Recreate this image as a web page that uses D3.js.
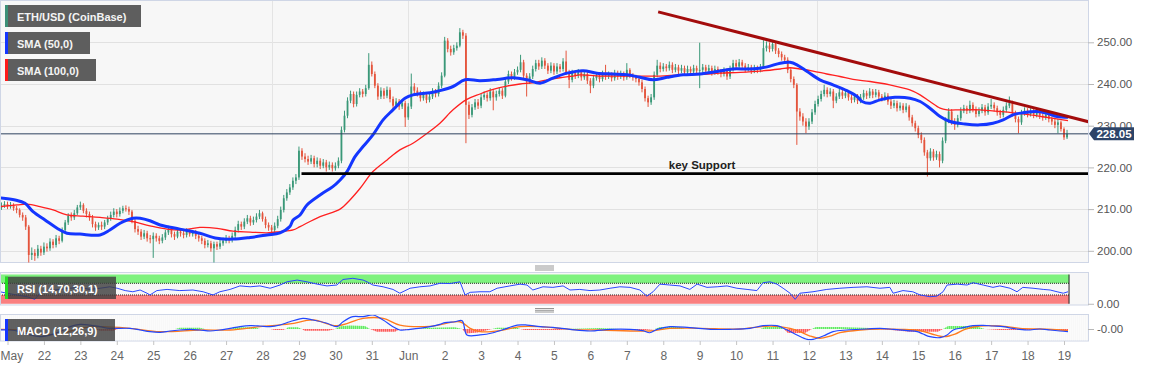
<!DOCTYPE html>
<html><head><meta charset="utf-8">
<script src="https://cdn.jsdelivr.net/npm/d3@7"></script>
<style>
html,body{margin:0;padding:0;background:#fff;}
svg{display:block;font-family:"Liberation Sans",Arial,Helvetica,sans-serif;}
</style></head><body>
<svg id="c" width="1153" height="367"></svg>
<script>
// ---------------- DATA ----------------
const firstCandle = Date.UTC(2020,4,20,20);   // first 2-hour candle
const candleHours = 2;
const firstOpen = 210.4;
const closes = [
210.8,211.2,210.6,211.0,210.2,209.8,208.6,208.0,205.8,199.0,
199.5,198.8,200.5,199.6,201.0,200.6,202.2,201.4,203.0,202.4,
205.0,206.8,208.4,208.0,209.0,210.4,211.0,209.6,208.8,208.0,
206.4,205.6,206.2,205.8,206.8,207.8,208.6,209.4,208.8,209.6,
210.2,210.0,209.4,207.2,205.2,204.6,203.4,204.2,203.0,202.8,
203.6,203.0,202.4,203.2,204.4,205.2,204.0,203.4,204.6,204.2,
203.8,204.6,204.0,204.4,203.6,203.0,202.4,201.4,201.8,200.6,
201.6,201.0,201.8,202.4,203.0,202.6,203.6,205.0,206.4,205.8,
207.0,207.8,206.8,207.4,208.2,209.0,207.6,206.2,205.6,205.0,
206.0,207.6,209.8,212.6,214.0,215.2,216.8,217.6,224.0,222.6,
222.0,221.4,222.2,220.8,221.6,220.4,221.2,220.0,220.6,219.8,
220.4,221.6,229.0,232.4,236.0,237.6,235.2,237.4,238.2,237.6,
239.0,244.6,242.4,239.6,237.0,238.4,237.2,238.6,236.4,234.8,
235.8,234.6,235.4,232.0,234.6,239.4,238.4,237.8,236.6,237.4,
236.2,237.0,238.2,237.6,239.6,242.0,250.4,248.4,247.6,248.6,
249.2,252.4,251.6,235.0,232.6,234.4,235.6,234.8,236.8,237.4,
236.6,238.2,236.8,237.6,238.4,237.2,240.6,242.4,241.6,242.8,
243.4,245.2,242.0,240.6,241.8,243.6,245.0,244.2,245.6,244.4,
243.2,244.4,243.0,244.2,243.6,245.4,242.8,241.0,242.6,242.0,
242.8,241.6,242.4,240.8,239.6,241.4,242.0,241.2,242.4,241.8,
242.2,241.4,242.6,241.8,242.4,241.6,243.4,242.0,241.6,241.2,
240.4,238.8,236.6,235.6,236.8,242.2,244.4,243.6,244.2,243.8,
244.6,243.4,244.0,243.2,243.8,242.8,243.6,243.0,243.8,243.2,
243.4,244.0,243.2,243.8,242.8,243.6,243.0,242.4,243.2,241.8,
243.6,245.0,244.2,245.2,244.4,243.6,244.0,243.2,243.8,243.4,
244.0,248.6,249.2,248.4,249.6,248.0,247.2,246.4,245.8,243.4,
241.2,239.8,233.4,232.2,231.0,229.8,231.0,233.2,235.2,236.4,
237.6,238.6,237.6,238.2,236.0,237.0,238.0,237.2,237.8,236.8,
236.2,237.0,236.0,236.8,237.8,237.2,238.2,237.4,238.0,237.0,
236.6,237.2,235.8,234.8,235.4,234.2,234.8,233.8,234.6,232.0,
230.6,229.4,227.8,226.6,223.6,222.2,223.8,222.4,223.2,221.6,
226.4,231.2,233.4,231.0,230.2,231.8,233.6,234.2,233.6,235.0,
234.0,232.8,233.6,234.4,233.2,234.6,235.0,234.2,233.2,232.6,
233.8,234.8,235.4,233.0,231.6,230.8,233.0,233.6,232.8,233.4,
232.6,233.2,232.4,232.0,232.6,231.6,231.0,230.2,230.8,229.2,
227.2,228.05];
const highs = [
211.6,211.9,211.8,211.7,211.4,210.8,210.2,209.2,208.6,206.2,
200.8,200.4,201.4,201.2,202.0,201.8,203.0,202.8,203.8,203.6,
205.6,207.4,209.0,209.2,209.8,211.0,211.8,211.4,210.2,209.4,
208.6,207.0,206.8,207.0,207.4,208.4,209.4,210.2,210.0,210.4,
210.8,210.9,210.6,209.8,207.6,206.0,205.2,205.0,204.8,203.8,
204.4,204.2,203.6,204.0,205.0,206.0,205.8,204.6,205.4,205.2,
204.8,205.4,205.2,205.0,205.0,204.2,203.6,203.0,202.6,202.4,
202.2,202.2,202.6,203.2,203.8,203.6,204.4,205.8,207.2,207.0,
207.8,208.6,208.4,208.2,209.0,209.8,209.4,208.2,206.8,206.2,
206.8,208.4,210.6,213.4,214.8,216.0,217.6,218.4,225.0,224.6,
223.4,222.8,223.0,222.8,222.4,222.2,222.0,221.8,221.4,221.2,
221.2,222.4,229.8,233.6,236.8,238.4,238.2,238.2,239.0,238.8,
239.8,247.4,245.4,243.0,240.2,239.2,239.0,239.4,239.2,237.0,
236.6,236.4,236.2,236.0,235.4,242.5,240.2,239.2,238.4,238.2,
238.0,237.8,239.0,238.8,240.4,242.8,251.3,251.0,249.2,249.4,
250.0,253.4,253.0,252.2,235.8,235.2,236.4,236.4,237.6,238.2,
238.0,239.0,238.8,238.4,239.2,239.0,241.4,243.2,243.0,243.6,
244.2,247.0,245.8,242.6,242.6,244.4,245.8,245.8,246.4,246.2,
245.0,245.2,245.0,245.0,244.8,246.2,248.0,243.4,243.4,243.2,
243.6,243.4,243.2,243.0,241.4,242.2,242.8,242.6,243.2,244.6,
243.0,242.8,243.4,243.2,243.2,243.0,245.0,243.8,242.6,242.2,
241.8,241.0,239.4,237.2,237.6,243.0,245.8,245.2,245.0,244.8,
245.4,245.2,244.8,244.6,244.6,244.4,244.4,244.2,244.6,244.4,
249.9,244.8,244.6,244.6,244.4,244.4,244.2,243.6,244.0,243.8,
244.4,245.8,245.8,246.0,245.8,245.0,244.8,244.6,244.6,244.4,
244.8,250.5,250.2,250.0,250.4,250.2,248.6,247.8,247.0,246.4,
243.8,241.8,240.2,234.2,233.0,231.8,231.8,234.0,236.0,237.2,
238.4,239.8,239.2,239.0,238.8,237.8,238.8,238.8,238.6,238.4,
237.4,237.8,237.6,237.6,238.6,238.4,239.0,238.8,238.8,238.6,
237.6,238.0,237.8,236.4,236.2,236.0,235.6,235.4,235.4,235.0,
232.6,231.2,230.0,228.4,227.2,224.2,224.6,224.4,224.0,223.8,
227.2,232.0,234.2,234.0,231.8,232.6,234.4,235.0,234.8,236.0,
235.6,234.6,234.4,235.2,235.0,235.4,236.4,235.6,234.8,233.8,
234.6,235.6,237.0,236.0,233.6,232.2,233.8,234.4,234.2,234.2,
234.0,234.0,233.8,233.0,233.4,233.2,232.2,231.6,231.6,231.2,
229.6,229.0];
const lows = [
209.8,210.3,210.0,210.1,209.6,209.0,208.0,207.2,205.0,197.0,
197.8,197.6,198.2,198.8,199.0,199.8,200.0,200.6,200.8,201.6,
202.0,204.4,206.2,207.2,207.4,208.6,209.8,209.0,208.0,207.2,
205.6,204.8,205.0,205.0,205.2,206.2,207.2,208.0,208.0,208.2,
209.0,209.4,208.6,206.6,204.4,203.8,202.6,202.8,202.2,201.8,
198.3,202.2,201.6,201.8,202.6,203.8,203.2,202.6,203.0,203.4,
203.0,203.2,203.4,203.4,202.8,202.2,201.6,200.6,200.8,199.8,
197.0,200.2,200.4,201.2,201.8,201.8,202.0,203.0,204.4,205.0,
205.2,206.4,206.0,206.2,206.8,207.6,207.0,205.4,204.8,204.2,
204.4,205.4,207.0,209.2,212.0,213.4,214.6,216.0,217.0,221.8,
221.2,220.6,220.8,220.0,220.0,219.6,219.8,219.0,219.4,219.0,
219.2,219.8,221.0,228.4,231.8,235.4,234.4,234.6,236.8,236.8,
237.0,238.6,241.8,239.0,236.2,236.4,236.4,236.6,235.6,234.0,
234.2,233.8,234.0,229.7,231.4,234.0,237.6,237.0,235.8,236.0,
235.4,235.6,236.4,236.8,237.0,239.0,241.6,247.6,246.8,247.0,
248.0,248.8,250.8,225.8,231.6,232.0,233.8,234.0,234.2,236.2,
235.8,236.0,233.7,236.0,237.0,236.4,236.8,240.0,240.8,241.0,
242.2,242.8,241.4,237.0,240.0,241.2,243.0,243.4,243.6,243.6,
242.4,242.6,242.2,242.4,242.8,243.0,242.2,239.0,240.4,241.2,
241.4,240.8,241.0,240.0,237.8,239.0,240.8,240.4,240.6,241.0,
241.2,240.6,240.8,241.0,241.2,240.8,241.0,241.4,240.8,240.4,
239.6,238.0,235.8,234.5,235.0,236.2,241.6,242.8,243.0,243.0,
243.2,242.6,242.8,242.4,242.6,242.0,242.2,242.2,242.4,242.4,
239.0,242.6,242.4,242.6,242.0,242.2,242.2,241.6,241.8,241.0,
241.2,243.0,243.4,243.6,243.6,242.8,243.0,242.4,242.6,242.6,
242.8,243.6,247.8,247.6,247.8,247.2,246.4,245.6,245.0,242.6,
240.4,239.0,225.4,231.2,230.0,228.2,229.0,230.4,232.6,234.6,
235.8,237.0,236.8,237.0,234.2,235.4,236.4,236.4,236.6,236.0,
235.4,235.6,235.2,235.4,236.2,236.4,236.6,236.6,236.8,236.2,
235.8,236.0,235.0,234.0,234.2,233.4,233.6,233.0,233.2,231.2,
229.8,228.6,227.0,225.8,222.8,217.8,221.6,221.6,221.8,220.0,
221.0,225.8,230.6,230.2,229.0,229.6,231.2,233.0,232.8,233.0,
233.2,232.0,232.2,233.0,232.4,232.6,234.0,233.4,232.4,231.8,
232.0,233.2,234.2,232.2,230.8,228.2,230.2,232.4,232.0,232.2,
231.8,232.0,231.6,231.2,231.4,230.8,230.2,229.4,228.2,228.6,
226.6,226.8];

// indicator samples: time in days after 21 May 2020 00:00 UTC
const sma50Day = [-0.21,0.21,0.48,0.70,1.03,1.36,1.63,1.99,2.54,2.81,3.09,3.44,3.64,3.91,4.19,4.73,5.28,5.75,6.19,6.66,7.12,7.48,7.75,7.84,8.03,8.22,8.58,8.93,9.13,9.32,9.54,9.76,10.03,10.31,10.58,10.91,11.13,11.60,11.87,12.23,12.56,12.97,13.44,13.88,14.26,14.62,14.97,15.36,15.80,16.18,16.62,17.01,17.36,17.72,18.10,18.54,19.01,19.48,19.91,20.38,20.85,21.21,21.48,21.67,21.95,22.30,22.66,23.04,23.32,23.46,23.68,23.95,24.36,24.77,25.05,25.32,25.60,25.87,26.28,26.69,27.05,27.33,27.60,27.87,28.26,28.53,28.81,29.11];
const sma50 = [212.7,212.2,211.4,209.4,207.4,205.4,204.2,204.0,203.8,205.0,206.6,207.8,207.8,207.2,206.2,205.2,204.2,203.0,202.8,203.2,203.8,204.3,205.8,207.4,208.6,211.0,213.4,215.4,217.0,219.0,222.6,225.0,227.8,231.4,233.8,236.6,237.4,237.9,238.4,239.4,241.0,240.8,241.1,241.5,241.0,240.2,241.4,242.6,243.2,242.6,242.4,242.2,241.6,241.0,241.6,242.2,242.4,243.0,243.6,243.6,244.1,245.0,245.2,244.6,243.0,241.0,239.8,238.4,237.0,235.8,235.4,236.2,236.8,236.6,235.8,234.2,232.2,231.0,230.4,230.2,230.6,231.4,232.6,233.1,233.4,233.0,232.2,232.0];
const sma100Day = [-0.21,0.26,0.54,0.89,1.25,1.63,2.07,2.54,3.01,3.44,3.91,4.38,4.82,5.28,5.75,6.19,6.66,7.12,7.48,7.84,8.03,8.58,9.13,9.40,9.68,10.03,10.42,10.77,11.13,11.52,11.87,12.23,12.61,12.97,13.33,13.71,14.07,14.42,14.81,15.17,15.52,15.71,16.26,16.81,17.36,17.91,18.46,19.01,19.56,20.11,20.66,21.21,21.48,21.75,22.11,22.49,22.85,23.21,23.68,24.22,24.77,25.05,25.32,25.60,25.79,26.15,26.69,27.24,27.60,28.07,28.53,28.89,29.11];
const sma100 = [210.6,211.0,211.2,210.6,209.8,208.6,208.3,208.0,207.6,207.0,206.0,205.2,205.0,205.6,205.4,204.7,204.5,204.3,204.6,205.0,205.8,208.2,210.0,212.2,215.0,219.0,221.8,224.2,225.8,228.2,230.6,233.8,236.3,237.6,238.7,239.5,240.0,240.3,241.0,241.5,241.9,242.2,241.9,241.9,241.9,241.9,242.2,242.3,242.6,242.8,243.1,243.6,243.9,243.6,243.1,242.4,241.8,241.1,240.6,239.8,238.6,237.4,235.8,234.2,233.8,233.8,233.8,233.4,233.1,232.6,232.0,231.5,231.2];

const rsiDay = [-0.21,-0.01,0.26,0.54,0.75,0.89,1.17,1.44,1.72,1.99,2.26,2.54,2.81,3.01,3.23,3.44,3.64,3.83,3.91,4.10,4.38,4.73,5.09,5.37,5.64,5.83,6.11,6.38,6.66,6.93,7.21,7.48,7.67,7.95,8.22,8.50,8.77,9.04,9.21,9.48,9.76,9.87,10.03,10.31,10.58,10.77,11.05,11.32,11.60,11.87,12.15,12.42,12.56,12.70,12.97,13.24,13.44,13.79,14.07,14.26,14.42,14.70,14.97,15.25,15.44,15.71,15.99,16.26,16.54,16.81,17.09,17.36,17.55,17.72,17.91,18.18,18.46,18.73,18.93,19.20,19.48,19.75,20.02,20.30,20.57,20.74,20.93,21.12,21.29,21.48,21.62,21.75,22.11,22.49,22.85,23.21,23.59,23.95,24.22,24.31,24.58,24.85,25.05,25.32,25.51,25.68,25.79,26.07,26.34,26.50,26.78,27.05,27.24,27.52,27.71,27.87,28.15,28.43,28.62,28.81,28.98,29.11];
const rsi = [41,36,30,24,15,36,45,49,53,56,49,53,58,53,45,41,47,36,30,45,49,45,47,41,30,41,49,61,58,61,53,64,75,81,75,67,61,64,83,87,81,75,64,58,49,36,53,58,61,70,69,75,30,39,41,41,53,61,67,64,47,58,56,61,47,49,45,47,53,58,56,47,26,41,67,64,61,49,67,56,58,61,53,49,45,72,75,67,53,36,15,36,41,49,53,56,58,53,56,36,45,41,30,24,26,41,64,67,64,72,64,56,61,53,41,56,53,49,47,41,36,41];

const macdDay = [-0.21,0.07,0.34,0.62,0.89,1.17,1.44,1.72,1.99,2.26,2.54,2.81,3.36,3.64,3.91,4.19,4.46,4.73,5.01,5.28,5.56,5.83,6.11,6.38,6.66,6.93,7.21,7.48,7.75,8.11,8.39,8.77,9.04,9.21,9.48,9.76,10.03,10.31,10.58,10.77,11.05,11.60,11.87,12.01,12.28,12.48,12.61,12.97,13.33,13.71,13.99,14.26,14.62,14.97,15.44,15.99,16.54,17.09,17.44,17.63,17.83,18.18,18.73,19.29,19.83,20.38,20.74,21.12,21.40,21.67,21.95,22.11,22.39,22.66,23.04,23.59,23.95,24.31,24.69,24.97,25.13,25.32,25.60,25.79,25.96,26.23,26.50,26.78,27.05,27.33,27.60,27.98,28.34,28.62,28.89,29.11];
const macd = [-0.45,-0.45,-1.2,-2.7,-3.5,-2.7,-1.2,1.06,2.1,1.8,1.06,0.3,0.3,-0.45,-1.2,-1.5,-0.9,-0.45,-0.15,-0.45,-0.9,-0.45,0.3,1.06,1.5,1.36,1.06,1.8,3.3,4.85,4.1,2.6,1.06,3.3,5.6,5.6,6.36,4.1,1.06,-0.45,-0.15,1.06,2.1,2.9,3.3,3.8,-2.7,-2.7,-1.7,0.3,1.8,1.8,1.06,0.76,-0.15,-0.9,-0.15,-0.15,-0.76,-1.7,-0.15,1.06,0.6,-0.15,-0.15,0.3,1.5,1.5,-0.45,-2.7,-4.7,-4.7,-3.2,-1.2,-0.45,0,0.3,-0.15,-0.76,-1.2,-2.3,-3.5,-3.9,-2.7,-0.45,0.6,1.5,1.67,1.36,1.06,0.3,-0.45,0,-0.45,-0.9,-1.2];
const signalDay = [-0.21,0.34,0.89,1.44,1.99,2.54,3.36,4.19,5.28,6.11,6.93,7.75,8.39,9.04,9.76,10.31,10.77,11.60,12.42,12.70,12.97,13.52,14.07,14.62,15.44,16.26,17.63,18.18,19.01,20.11,20.93,21.48,21.75,22.03,22.30,22.58,22.85,23.40,23.95,24.50,25.05,25.46,25.73,26.01,26.28,26.69,27.24,27.79,28.34,28.89,29.11];
const signal = [-0.15,-0.45,-2.3,-2.3,0.3,1.06,0.3,-1.2,-0.45,-0.45,1.06,2.3,4.1,1.5,4.85,4.85,1.8,1.2,3.3,0.3,-1.2,-0.76,1.06,1.06,-0.15,-0.45,-0.9,0.3,0.3,0,1.36,0.3,-1.2,-3.2,-4.2,-3.2,-1.67,-0.45,0,-0.15,-0.76,-2.7,-3.5,-2.3,-0.15,1.36,1.36,0.3,0,-0.45,-0.76];
const histDay = [-0.21,2.40,2.54,2.90,3.03,4.60,4.73,5.28,5.42,6.11,6.24,6.79,6.93,7.21,7.34,7.56,7.64,7.70,7.97,8.08,8.16,8.80,8.99,9.13,9.40,9.81,9.95,10.14,10.64,10.77,10.91,11.19,11.60,12.28,12.48,12.59,12.91,13.30,13.44,13.99,14.07,14.20,15.17,15.30,16.26,16.81,17.36,17.77,17.91,18.46,18.60,20.66,20.79,21.21,21.31,21.42,21.89,22.08,22.19,22.85,23.68,23.95,24.77,25.54,25.68,25.82,26.56,26.83,27.24,28.07,28.34,28.75,29.11];
const hist = [0,0,-0.8,-0.8,0,0,0.6,0.6,0,0,0.8,0.8,0,0,-0.5,-0.5,0,0.8,0.8,0,-0.8,-0.8,0,1.2,1.6,1.4,0,-1.2,-1.2,0,-0.4,0,0.6,0.8,0,-2,-1.6,0,0.6,0.6,0,-0.4,-0.4,0,0.4,0,-0.7,0,0.9,0.9,0,0,0.9,0.9,0,-1.8,-1.8,0,0.9,0.9,0.4,0,-1.2,-1.2,0,1.4,1.4,0,-0.5,-0.5,0,-0.5,-0.5];

const trendDay = [17.86, 29.67];
const trendPrice = [257.3, 230.96];
const supportDay = [8.07, 29.66];
const supportPrice = 218.5;
const lastPrice = 228.05;
const gridDays = [7.26, 11.0, 22.22];
const priceTicks = [200,210,220,230,240,250];
const xTickLabels = ["May","22","23","24","25","26","27","28","29","30","31","Jun","2","3","4","5","6","7","8","9","10","11","12","13","14","15","16","17","18","19"];
const legendItems = ["ETH/USD (CoinBase)","SMA (50,0)","SMA (100,0)"];
const legendColors = ["#3c8f77","#1436ff","#ff1a1a"];

// ---------------- CHART ----------------
const svg = d3.select("#c");
const dayMs = 864e5;
const t0 = Date.UTC(2020,4,21);
const fromDay = d => new Date(t0 + d*dayMs);
const PR = 1088;
const x = d3.scaleUtc().domain([new Date(Date.UTC(2020,4,21)), new Date(Date.UTC(2020,5,19))]).range([7.5,1064]);
const y = d3.scaleLinear().domain([200,250]).range([250.8,42.3]);
const yR = d3.scaleLinear().domain([0,100]).range([303.75,274.5]);
const yM = d3.scaleLinear().domain([-6,6]).range([342.2,315.8]);

const defs = svg.append("defs");
defs.append("clipPath").attr("id","cm").append("rect").attr("x",1).attr("y",1).attr("width",PR-1).attr("height",261.5);
defs.append("clipPath").attr("id","cr").append("rect").attr("x",1).attr("y",273).attr("width",PR-1).attr("height",31.5);
defs.append("clipPath").attr("id","cd").append("rect").attr("x",1).attr("y",315).attr("width",PR-1).attr("height",25.5);

// panels
svg.append("rect").attr("x",0.5).attr("y",0.5).attr("width",PR).attr("height",262).attr("fill","#f7f7f7").attr("stroke","#cfd6e6");
svg.append("rect").attr("x",0.5).attr("y",272.5).attr("width",PR).attr("height",32.5).attr("fill","#f7f7f7").attr("stroke","#cfd6e6");
svg.append("rect").attr("x",0.5).attr("y",314.5).attr("width",PR).attr("height",26.5).attr("fill","#f7f7f7").attr("stroke","#cfd6e6");

const gm = svg.append("g").attr("clip-path","url(#cm)");
// grid
gm.selectAll(".hg").data(priceTicks).join("line")
  .attr("x1",0).attr("x2",PR).attr("y1",d=>Math.round(y(d))+0.5).attr("y2",d=>Math.round(y(d))+0.5)
  .attr("stroke","#e1e1e1");
gm.selectAll(".vg").data(gridDays).join("line")
  .attr("x1",d=>Math.round(x(fromDay(d)))+0.5).attr("x2",d=>Math.round(x(fromDay(d)))+0.5)
  .attr("y1",0).attr("y2",263).attr("stroke","#e4e4e4");

// candles
const candles = closes.map((c,i)=>({
  t:new Date(firstCandle + i*candleHours*3600e3),
  o: i===0 ? firstOpen : closes[i-1], c, h:highs[i], l:lows[i]}));
const up="#3a9878", dn="#e4543c";
const cg = gm.append("g");
cg.selectAll("line").data(candles).join("line")
  .attr("x1",d=>x(d.t)).attr("x2",d=>x(d.t))
  .attr("y1",d=>y(d.h)).attr("y2",d=>y(d.l))
  .attr("stroke",d=>d.c>=d.o?up:dn).attr("stroke-width",1);
cg.selectAll("rect").data(candles).join("rect")
  .attr("x",d=>x(d.t)-0.9).attr("width",1.8)
  .attr("y",d=>y(Math.max(d.o,d.c)))
  .attr("height",d=>Math.max(1,Math.abs(y(d.o)-y(d.c))))
  .attr("fill",d=>d.c>=d.o?up:dn);

// SMAs
const lineDay = d3.line().curve(d3.curveCatmullRom.alpha(0.5));
gm.append("path").attr("d", lineDay(sma100Day.map((d,i)=>[x(fromDay(d)), y(sma100[i])])))
  .attr("fill","none").attr("stroke","#ff2020").attr("stroke-width",1.3);
gm.append("path").attr("d", lineDay(sma50Day.map((d,i)=>[x(fromDay(d)), y(sma50[i])])))
  .attr("fill","none").attr("stroke","#1436ff").attr("stroke-width",3);

// last price line
gm.append("line").attr("x1",0).attr("x2",PR).attr("y1",y(lastPrice)).attr("y2",y(lastPrice))
  .attr("stroke","#2e425e").attr("stroke-width",1);

// support
gm.append("line").attr("x1",x(fromDay(supportDay[0]))).attr("x2",x(fromDay(supportDay[1])))
  .attr("y1",y(supportPrice)).attr("y2",y(supportPrice)).attr("stroke","#000").attr("stroke-width",2.6);
svg.append("text").attr("x",702).attr("y",y(supportPrice)-4.5).attr("text-anchor","middle")
  .attr("font-size",11.5).attr("font-weight","bold").attr("fill","#222").text("key  Support");

// trendline
gm.append("line").attr("x1",x(fromDay(trendDay[0]))).attr("x2",x(fromDay(trendDay[1])))
  .attr("y1",y(trendPrice[0])).attr("y2",y(trendPrice[1])).attr("stroke","#a30c0c").attr("stroke-width",3);

// price axis
const ya = svg.append("g").attr("transform",`translate(${PR},0)`)
  .call(d3.axisRight(y).tickValues(priceTicks).tickFormat(d3.format(".2f")).tickSize(6).tickPadding(3));
ya.select(".domain").remove();
ya.selectAll("line").attr("stroke","#b8b8b8");
ya.selectAll("text").attr("fill","#555").attr("font-size",11.5).attr("font-family","Liberation Sans, Arial, sans-serif");

// last price label
const yp = y(lastPrice);
svg.append("path").attr("d",`M${PR+1},${yp} L${PR+6},${yp-6.5} L1134,${yp-6.5} L1134,${yp+6.5} L${PR+6},${yp+6.5} Z`).attr("fill","#2c4468");
svg.append("text").attr("x",1114).attr("y",yp+4).attr("text-anchor","middle").attr("font-size",11.5)
  .attr("font-weight","bold").attr("fill","#fff").text(d3.format(".2f")(lastPrice));

// handles
[[266,268,270],[308.5,310.3,312]].forEach(ys=>ys.forEach(yy=>
  svg.append("line").attr("x1",535).attr("x2",554).attr("y1",yy).attr("y2",yy).attr("stroke","#8a8a8a").attr("stroke-width",0.9)));

// RSI panel
const lastT = candles[candles.length-1].t;
const bandEnd = x(lastT)+2;
const gr = svg.append("g").attr("clip-path","url(#cr)");
gr.append("rect").attr("x",0).attr("y",yR(100)).attr("width",bandEnd).attr("height",yR(70)-yR(100)).attr("fill","#7ef27e");
gr.append("rect").attr("x",0).attr("y",yR(30)).attr("width",bandEnd).attr("height",yR(0)-yR(30)).attr("fill","#fa8080");
[70,30].forEach(v=>gr.append("line").attr("x1",0).attr("x2",bandEnd).attr("y1",yR(v)).attr("y2",yR(v))
  .attr("stroke","#111").attr("stroke-dasharray","1,1").attr("stroke-width",0.9));
gr.append("line").attr("x1",bandEnd).attr("x2",bandEnd).attr("y1",yR(100)).attr("y2",yR(0)).attr("stroke","#222");
// RSI label box
svg.append("rect").attr("x",5).attr("y",276.7).attr("width",111).attr("height",22.3).attr("fill","#3e3e3e").attr("opacity",0.82);
svg.append("rect").attr("x",5).attr("y",276.7).attr("width",3).attr("height",22.3).attr("fill","#22dd22");
svg.append("text").attr("x",17).attr("y",292.5).attr("font-size",11).attr("fill","#fff").attr("font-weight","bold").text("RSI (14,70,30,1)");
gr.append("path").attr("d", d3.line()(rsiDay.map((d,i)=>[x(fromDay(d)), yR(rsi[i])])))
  .attr("fill","none").attr("stroke","#2a46ff").attr("stroke-width",1);
const ra = svg.append("g").attr("transform",`translate(${PR},0)`)
  .call(d3.axisRight(yR).tickValues([0]).tickFormat(d3.format(".2f")).tickSize(6).tickPadding(3));
ra.select(".domain").remove();
ra.selectAll("line").attr("stroke","#b8b8b8");
ra.selectAll("text").attr("fill","#555").attr("font-size",11.5);

// MACD panel
const gd = svg.append("g").attr("clip-path","url(#cd)");
const pat = defs.append("pattern").attr("id","hp").attr("width",2).attr("height",4).attr("patternUnits","userSpaceOnUse");
pat.append("rect").attr("width",1.2).attr("height",4).attr("fill","#fff");
const histPts = histDay.map((d,i)=>({t:fromDay(d), v:hist[i]}));
gd.append("path").attr("d", d3.area().x(p=>x(p.t)).y0(yM(0)).y1(p=>yM(Math.max(0,p.v)))(histPts)).attr("fill","#33e633").attr("opacity",0.85);
gd.append("path").attr("d", d3.area().x(p=>x(p.t)).y0(yM(0)).y1(p=>yM(Math.min(0,p.v)))(histPts)).attr("fill","#ff2a2a").attr("opacity",0.85);
gd.append("rect").attr("x",0).attr("y",315).attr("width",PR).attr("height",26).attr("fill","url(#hp)").attr("opacity",0.45);
svg.append("rect").attr("x",5).attr("y",319).attr("width",110).attr("height",22).attr("fill","#3e3e3e").attr("opacity",0.82);
svg.append("rect").attr("x",5).attr("y",319).attr("width",3).attr("height",22).attr("fill","#1436ff");
svg.append("text").attr("x",17).attr("y",334.5).attr("font-size",11).attr("fill","#fff").attr("font-weight","bold").text("MACD (12,26,9)");
gd.append("path").attr("d", lineDay(signalDay.map((d,i)=>[x(fromDay(d)), yM(signal[i])])))
  .attr("fill","none").attr("stroke","#ff7a1c").attr("stroke-width",1.3);
gd.append("path").attr("d", lineDay(macdDay.map((d,i)=>[x(fromDay(d)), yM(macd[i])])))
  .attr("fill","none").attr("stroke","#2247ff").attr("stroke-width",1.2);
const ma = svg.append("g").attr("transform",`translate(${PR},0)`)
  .call(d3.axisRight(yM).tickValues([0]).tickFormat(()=>"-0.00").tickSize(6).tickPadding(3));
ma.select(".domain").remove();
ma.selectAll("line").attr("stroke","#b8b8b8");
ma.selectAll("text").attr("fill","#555").attr("font-size",11.5);

// time axis
const days = d3.utcDay.range(new Date(Date.UTC(2020,4,21)), new Date(Date.UTC(2020,5,20)));
const xa = svg.append("g").attr("transform","translate(0,341)")
  .call(d3.axisBottom(x).tickValues(days).tickFormat((d,i)=>xTickLabels[i]).tickSize(4).tickPadding(6));
xa.select(".domain").remove();
xa.selectAll("line").attr("stroke","#c4c4c4");
xa.selectAll("text").attr("fill","#666").attr("font-size",12).attr("font-family","Liberation Sans, Arial, sans-serif");
// first label ("May") sits against the left edge
xa.selectAll("text").filter((d,i)=>i===0).attr("text-anchor","start").attr("x",-7.5);

// legend
const lg = svg.append("g");
const lw = [136,85,91], ly = [5,32,59];
legendItems.forEach((t,i)=>{
  lg.append("rect").attr("x",5).attr("y",ly[i]).attr("width",lw[i]).attr("height",22).attr("fill","#5e5e5e");
  lg.append("rect").attr("x",5).attr("y",ly[i]).attr("width",3).attr("height",22).attr("fill",legendColors[i]);
  lg.append("text").attr("x",17).attr("y",ly[i]+16).attr("font-size",11).attr("font-weight","bold").attr("fill","#f4f4f4").text(t);
});
</script>
</body></html>
